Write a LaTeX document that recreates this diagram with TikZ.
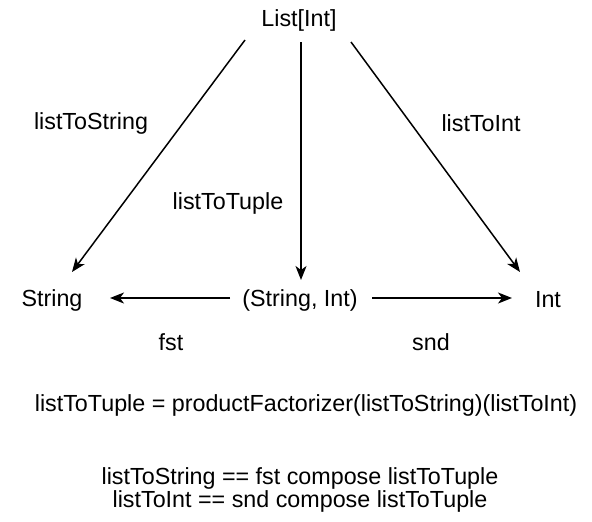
\documentclass[tikz,border=0pt]{standalone}
\usepackage{fontspec}
\setmainfont{Liberation Sans}
\usetikzlibrary{arrows.meta}
\begin{document}
\begin{tikzpicture}[x=1pt,y=-1pt,
  lbl/.style={inner sep=0pt,font=\fontsize{23.3}{21}\selectfont},
  arr/.style={line width=1.5pt,-{Stealth[length=14pt,width=11pt,inset=4pt]}}]
\useasboundingbox (0,0) rectangle (592,522);
\node[lbl] (list) at (299,20) {List[Int]};
\node[lbl] (str) at (52,300) {String};
\node[lbl] (tup) at (300,300) {(String, Int)};
\node[lbl] (int) at (548,300) {Int};
\coordinate (l1) at (245,40);
\coordinate (l2) at (72,272);
\coordinate (m1) at (301,42);
\coordinate (m2) at (301,280);
\coordinate (r1) at (351,42);
\coordinate (r2) at (520,272);
\coordinate (h1) at (230,298);
\coordinate (h2) at (110,298);
\coordinate (h3) at (372,298);
\coordinate (h4) at (512,298);
\draw[arr] (l1) -- (l2);
\draw[arr] (m1) -- (m2);
\draw[arr] (r1) -- (r2);
\draw[arr] (h1) -- (h2);
\draw[arr] (h3) -- (h4);
\node[lbl] (a) at (91,123) {listToString};
\node[lbl] (b) at (481,123) {listToInt};
\node[lbl] (c) at (228,203) {listToTuple};
\node[lbl] (d) at (171,342) {fst};
\node[lbl] (e) at (431,342) {snd};
\node[lbl] (f) at (306,405) {listToTuple = productFactorizer(listToString)(listToInt)};
\node[lbl,align=center] (g) at (300,490) {listToString == fst compose listToTuple\\listToInt == snd compose listToTuple};
\end{tikzpicture}
\end{document}
